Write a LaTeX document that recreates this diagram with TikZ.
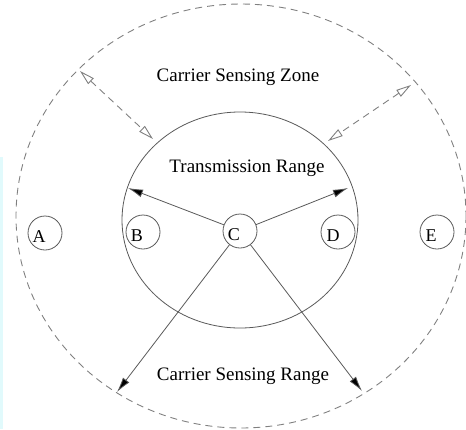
\documentclass[tikz,border=0pt]{standalone}
\usepackage{fontspec}
\setmainfont{Liberation Serif}
\usetikzlibrary{arrows.meta}
\definecolor{linegray}{gray}{0.35}
\definecolor{dashgray}{gray}{0.5}
\definecolor{edgecyan}{RGB}{225,250,252}
\tikzset{
  station/.style={circle, draw=linegray, line width=0.8pt, minimum size=34pt, inner sep=0pt},
  letter/.style={font=\fontsize{18}{20}\selectfont, inner sep=0pt},
  caption/.style={font=\fontsize{19}{22}\selectfont, inner sep=0pt},
  solidarrow/.style={draw=linegray, line width=0.8pt, -{Latex[length=15pt,width=8pt,fill=black]}},
  zonearrow/.style={draw=dashgray, line width=0.9pt, dash pattern=on 7pt off 5pt,
    {Triangle[open,length=15pt,width=8pt]}-{Triangle[open,length=15pt,width=8pt]}}
}
\begin{document}
\begin{tikzpicture}[x=1pt,y=-1pt]
  \useasboundingbox (0,0) rectangle (466,429);
  \fill[edgecyan] (0,157) rectangle (2.5,429);

  % carrier sensing range (outer) and transmission range (inner)
  \draw[dashgray, line width=0.9pt, dash pattern=on 7pt off 5pt]
    (241,216) ellipse [x radius=225, y radius=212];
  \draw[linegray, line width=0.8pt] (240,220) ellipse [x radius=118, y radius=108];

  % stations
  \node[station] (a) at (45,233) {};
  \node[station] (b) at (143,232) {};
  \node[station] (c) at (240,231) {};
  \node[station] (d) at (338,232) {};
  \node[station] (e) at (437,232) {};
  \node[letter] at ([shift={(-6,4)}]a.center) {A};
  \node[letter] at ([shift={(-6,4)}]b.center) {B};
  \node[letter] at ([shift={(-6,4)}]c.center) {C};
  \node[letter] at ([shift={(-5,4)}]d.center) {D};
  \node[letter] at ([shift={(-6,4)}]e.center) {E};

  % range end points
  \coordinate (tl) at (128,188);
  \coordinate (tr) at (348,188);
  \coordinate (bl) at (117,392);
  \coordinate (br) at (362,391);
  \coordinate (zl1) at (80,71);
  \coordinate (zl2) at (153,139);
  \coordinate (zr1) at (411,85);
  \coordinate (zr2) at (328,141);

  \draw[solidarrow] (c) -- (tl);
  \draw[solidarrow] (c) -- (tr);
  \draw[solidarrow] (c) -- (bl);
  \draw[solidarrow] (c) -- (br);
  \draw[zonearrow] (zl1) -- (zl2);
  \draw[zonearrow] (zr1) -- (zr2);

  % captions
  \node[caption] (zone) at (238,77) {Carrier Sensing Zone};
  \node[caption] (trange) at (247,168) {Transmission Range};
  \node[caption] (srange) at (243,376) {Carrier Sensing Range};
\end{tikzpicture}
\end{document}
